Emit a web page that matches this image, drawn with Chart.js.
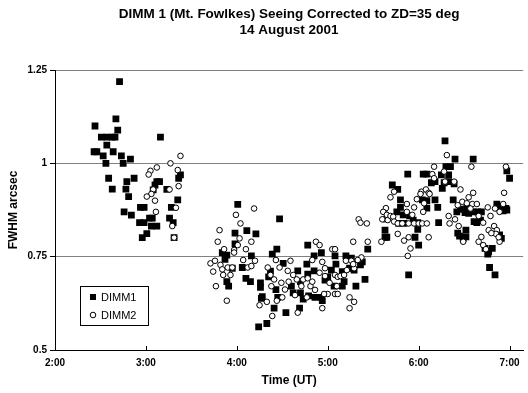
<!DOCTYPE html>
<html>
<head>
<meta charset="utf-8">
<script src="https://cdn.jsdelivr.net/npm/chart.js@4/dist/chart.umd.min.js"></script>
<style>
  html, body { margin: 0; padding: 0; background: #fff; }
  #wrap { width: 528px; height: 393px; position: relative; }
</style>
</head>
<body>
<div id="wrap"><canvas id="c" width="528" height="393"></canvas></div>
<script>
// ---- Data (time in decimal hours UT, FWHM in arcsec) ----
const titleLines = ['DIMM 1 (Mt. Fowlkes) Seeing Corrected to ZD=35 deg', '14 August 2001'];
const xAxisTitle = 'Time (UT)';
const yAxisTitle = 'FWHM arcsec';
const seriesNames = ['DIMM1', 'DIMM2'];
const yTicks = [0.5, 0.75, 1, 1.25];
const xTickHours = [2, 3, 4, 5, 6, 7];

const dimm1Time = [
  2.71,2.44,2.67,2.69,2.51,2.57,2.63,2.66,3.16,2.57,2.43,2.46,2.64,2.53,2.73,2.83,2.56,2.75,
  2.59,2.87,2.79,2.63,2.78,2.81,3.12,3.15,3.10,3.08,3.23,3.38,3.36,3.35,3.28,2.94,2.98,2.76,
  2.84,3.04,3.07,2.93,2.98,3.06,3.12,3.26,3.30,3.01,2.96,3.31,
  4.01,4.47,3.98,4.11,4.21,3.98,3.84,3.89,3.87,4.16,3.95,4.06,4.44,4.37,4.51,3.89,3.91,4.10,
  4.15,4.26,4.26,4.35,4.43,4.28,4.27,4.45,4.60,4.67,4.77,4.85,4.78,4.78,4.85,4.93,4.70,4.62,
  4.70,4.73,4.79,4.86,4.93,4.94,4.97,5.00,5.04,5.08,5.09,5.07,5.16,5.18,5.16,5.20,5.26,5.24,
  5.29,5.31,5.36,5.38,5.41,5.44,4.41,4.54,4.24,4.33,4.69,4.39,
  6.29,6.40,6.60,5.88,6.05,6.09,6.25,6.33,6.30,6.35,6.97,7.00,5.71,5.77,6.14,6.18,6.26,6.28,
  6.33,6.39,5.80,5.80,5.76,5.83,5.78,5.84,6.04,6.09,6.18,6.21,6.09,5.90,5.94,5.99,5.99,5.96,
  6.00,5.63,5.63,5.65,6.22,6.38,6.42,6.46,6.51,6.53,6.55,6.60,6.65,6.69,6.61,6.64,6.68,6.43,
  6.45,6.52,6.52,6.49,6.86,6.91,6.96,6.93,6.97,6.73,6.77,6.81,6.76,6.89,6.91,6.78,6.84,5.89
];
const dimm1Fwhm = [
  1.219,1.100,1.119,1.089,1.070,1.070,1.070,1.070,1.070,1.049,1.031,1.031,1.031,1.020,1.020,1.011,1.000,1.000,
  0.960,0.960,0.951,0.931,0.931,0.911,0.951,0.951,0.942,0.929,0.930,0.969,0.960,0.902,0.882,0.882,0.882,0.870,
  0.861,0.853,0.853,0.841,0.841,0.832,0.832,0.853,0.841,0.812,0.801,0.801,
  0.890,0.851,0.813,0.820,0.811,0.784,0.761,0.754,0.743,0.752,0.719,0.721,0.770,0.711,0.732,0.683,0.671,0.692,
  0.683,0.680,0.668,0.696,0.662,0.643,0.638,0.641,0.671,0.712,0.730,0.712,0.703,0.781,0.752,0.761,0.683,0.653,
  0.653,0.636,0.645,0.641,0.641,0.632,0.687,0.696,0.714,0.752,0.730,0.671,0.671,0.683,0.710,0.752,0.746,0.719,
  0.714,0.671,0.728,0.736,0.689,0.770,0.612,0.600,0.562,0.571,0.612,0.757,
  1.060,1.011,1.011,0.971,0.971,0.971,0.969,0.969,0.991,0.991,0.980,0.960,0.942,0.930,0.948,0.951,0.933,0.948,
  0.951,0.945,0.902,0.882,0.870,0.862,0.839,0.839,0.902,0.900,0.902,0.882,0.880,0.859,0.848,0.841,0.823,0.802,
  0.781,0.821,0.802,0.802,0.841,0.902,0.870,0.877,0.868,0.880,0.866,0.870,0.870,0.870,0.844,0.841,0.848,0.813,
  0.805,0.821,0.803,0.799,0.891,0.882,0.879,0.873,0.875,0.772,0.763,0.772,0.757,0.808,0.799,0.721,0.701,0.701
];

const dimm2Time = [
  3.38,3.27,3.35,3.12,3.05,3.03,3.36,3.26,3.08,3.06,3.01,3.10,3.33,3.11,3.29,3.31,
  4.19,3.99,4.04,3.81,3.79,3.86,3.97,4.03,4.16,3.97,4.01,4.10,3.71,3.76,3.82,3.74,3.84,3.90,
  3.95,4.07,4.20,4.12,4.16,3.85,3.93,3.77,3.89,4.34,4.37,4.41,4.38,4.43,4.47,4.56,4.59,4.49,
  4.57,4.53,4.50,4.25,4.33,4.44,4.39,4.62,4.66,4.73,4.71,4.78,4.81,4.86,4.83,4.64,4.77,4.67,
  4.87,4.91,4.83,4.94,4.97,5.05,5.08,4.91,4.97,5.02,5.10,5.08,5.11,5.00,4.96,5.08,5.11,4.94,
  5.14,5.18,5.21,5.20,5.26,5.29,5.28,5.24,5.29,5.24,5.28,5.34,5.36,5.43,5.44,5.37,5.33,5.59,
  5.62,5.62,
  6.31,6.17,6.58,6.96,6.15,6.28,6.17,6.29,6.39,6.46,6.60,6.94,5.73,5.69,6.03,6.08,6.11,6.02,
  5.98,6.12,5.64,5.61,5.65,5.60,5.66,5.69,5.72,5.73,5.77,5.82,5.87,5.95,5.87,5.93,5.89,5.95,
  6.00,6.04,6.09,6.05,6.06,5.77,5.84,5.89,5.91,5.88,6.11,6.33,6.34,6.40,6.43,6.48,6.53,6.55,
  6.59,6.64,6.57,6.66,6.71,6.76,6.84,6.79,6.89,6.93,6.44,6.49,6.66,6.69,6.71,6.74,6.83,6.86,
  6.85,6.77,6.80,6.89,6.88
];
const dimm2Fwhm = [
  1.020,1.000,0.982,0.989,0.980,0.970,0.939,0.930,0.930,0.918,0.911,0.900,0.881,0.870,0.832,0.801,
  0.879,0.862,0.839,0.821,0.790,0.770,0.768,0.799,0.790,0.761,0.781,0.770,0.732,0.739,0.728,0.710,0.716,0.721,
  0.721,0.741,0.739,0.721,0.725,0.701,0.701,0.671,0.632,0.721,0.701,0.689,0.671,0.741,0.721,0.712,0.739,0.680,
  0.683,0.662,0.641,0.620,0.629,0.632,0.591,0.701,0.689,0.689,0.671,0.692,0.671,0.661,0.683,0.647,0.641,0.600,
  0.790,0.781,0.741,0.736,0.719,0.770,0.770,0.707,0.698,0.680,0.671,0.701,0.696,0.650,0.650,0.650,0.650,0.612,
  0.698,0.701,0.714,0.739,0.739,0.719,0.730,0.641,0.629,0.612,0.790,0.850,0.841,0.839,0.790,0.748,0.741,0.790,
  0.870,0.850,
  1.022,0.991,0.991,0.991,0.971,0.978,0.960,0.951,0.951,0.930,0.921,0.921,0.924,0.909,0.924,0.930,0.921,0.918,
  0.904,0.918,0.880,0.870,0.862,0.850,0.848,0.859,0.857,0.844,0.839,0.839,0.891,0.882,0.870,0.862,0.839,0.839,
  0.839,0.839,0.839,0.870,0.893,0.811,0.793,0.802,0.772,0.752,0.802,0.859,0.839,0.850,0.888,0.897,0.893,0.909,
  0.891,0.891,0.879,0.859,0.841,0.882,0.879,0.859,0.870,0.891,0.832,0.790,0.790,0.803,0.781,0.770,0.832,0.821,
  0.811,0.821,0.813,0.790,0.802
];

const toPoints = (xs, ys) => xs.map((x, i) => ({ x: x, y: ys[i] }));

const FONT = "'Liberation Sans', Arial, Helvetica, sans-serif";

// Legend box drawn inside the plot area (Excel style)
const insideLegend = {
  id: 'insideLegend',
  afterDatasetsDraw(chart) {
    const ctx = chart.ctx;
    const a = chart.chartArea;
    const bx = a.left + 25, by = a.bottom - 64, bw = 68, bh = 39;
    ctx.save();
    ctx.fillStyle = '#fff';
    ctx.fillRect(bx, by, bw, bh);
    ctx.strokeStyle = '#000';
    ctx.lineWidth = 1;
    ctx.strokeRect(bx + 0.5, by + 0.5, bw, bh);
    ctx.font = '11px ' + FONT;
    ctx.textBaseline = 'middle';
    ctx.fillStyle = '#000';
    chart.data.datasets.forEach((ds, i) => {
      const cy = by + 11 + i * 18;
      const mx = bx + 13;
      if (ds.pointStyle === 'rect') {
        ctx.fillStyle = '#000';
        ctx.fillRect(mx - 3, cy - 3, 6, 6);
      } else {
        ctx.beginPath();
        ctx.arc(mx, cy, 2.8, 0, Math.PI * 2);
        ctx.fillStyle = '#fff';
        ctx.fill();
        ctx.strokeStyle = '#000';
        ctx.stroke();
      }
      ctx.fillStyle = '#000';
      ctx.textAlign = 'left';
      ctx.fillText(ds.label, bx + 21, cy + 0.5);
    });
    ctx.restore();
  },
  afterDraw(chart) {
    // inside tick marks on the x axis
    const ctx = chart.ctx;
    const xs = chart.scales.x;
    const a = chart.chartArea;
    ctx.save();
    ctx.strokeStyle = '#000';
    ctx.lineWidth = 1;
    xs.ticks.forEach(t => {
      const px = Math.round(xs.getPixelForValue(t.value)) + 0.5;
      ctx.beginPath();
      ctx.moveTo(px, a.bottom);
      ctx.lineTo(px, a.bottom - 4);
      ctx.stroke();
    });
    ctx.restore();
  }
};

new Chart(document.getElementById('c'), {
  type: 'scatter',
  data: {
    datasets: [
      {
        label: seriesNames[0],
        data: toPoints(dimm1Time, dimm1Fwhm),
        pointStyle: 'rect',
        pointRadius: 4.8,
        pointHoverRadius: 4.8,
        backgroundColor: '#000',
        borderColor: '#000',
        borderWidth: 0,
        order: 1
      },
      {
        label: seriesNames[1],
        data: toPoints(dimm2Time, dimm2Fwhm),
        pointStyle: 'circle',
        pointRadius: 2.8,
        pointHoverRadius: 2.8,
        backgroundColor: '#fff',
        borderColor: '#000',
        borderWidth: 1,
        order: 0
      }
    ]
  },
  options: {
    responsive: false,
    animation: false,
    devicePixelRatio: 1,
    layout: { padding: { left: 0, right: 1, top: 0, bottom: 0 } },
    plugins: {
      legend: { display: false },
      tooltip: { enabled: false },
      title: {
        display: true,
        text: titleLines,
        fullSize: false,
        color: '#000',
        font: { family: FONT, size: 13.5, weight: 'bold', lineHeight: 1.2 },
        padding: { top: 6, bottom: 31.6 }
      }
    },
    scales: {
      x: {
        type: 'linear',
        min: 2,
        max: 7.15,
        afterFit(s) { s.height = 43; },
        ticks: {
          stepSize: 1,
          includeBounds: false,
          autoSkip: false,
          maxRotation: 0,
          padding: 7,
          color: '#000',
          font: { family: FONT, size: 10, weight: 'bold' },
          callback: v => (xTickHours.includes(v) ? Math.floor(v) + ':00' : '')
        },
        grid: { display: true, drawOnChartArea: false, drawTicks: false, tickLength: 0 },
        border: { display: true, color: '#000', width: 1 },
        title: {
          display: true,
          text: xAxisTitle,
          color: '#000',
          font: { family: FONT, size: 12, weight: 'bold' },
          padding: { top: 2, bottom: 5 }
        }
      },
      y: {
        type: 'linear',
        min: 0.5,
        max: 1.25,
        afterFit(s) { s.width = 55; },
        afterBuildTicks(s) { s.ticks = yTicks.map(v => ({ value: v })); },
        ticks: {
          stepSize: 0.25,
          padding: 3,
          color: '#000',
          font: { family: FONT, size: 10, weight: 'bold' },
          callback: v => String(v)
        },
        grid: {
          color: ctx => (ctx.tick && ctx.tick.value === 0.5 ? 'rgba(0,0,0,0)' : '#808080'),
          tickColor: '#000',
          tickLength: 5,
          lineWidth: 1
        },
        border: { display: true, color: '#000', width: 1 },
        title: {
          display: true,
          text: yAxisTitle,
          color: '#000',
          font: { family: FONT, size: 12, weight: 'bold' },
          padding: { top: 6, bottom: 0 }
        }
      }
    }
  },
  plugins: [insideLegend]
});
</script>
</body>
</html>
